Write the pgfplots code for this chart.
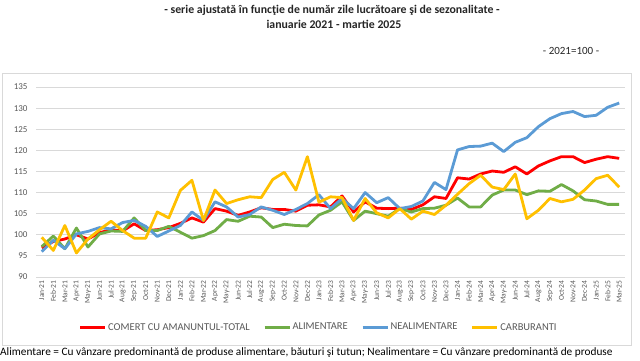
\documentclass[border=0pt]{standalone}
\usepackage{fontspec}
\setmainfont{Carlito}
\usepackage{pgfplots}
\usepackage{pgfplotstable}
\pgfplotsset{compat=1.18}
\definecolor{cred}{RGB}{255,0,0}
\definecolor{cgreen}{RGB}{112,173,71}
\definecolor{cblue}{RGB}{91,155,213}
\definecolor{cyellow}{RGB}{255,192,0}
\definecolor{tickgray}{RGB}{89,89,89}
\definecolor{gridgray}{RGB}{217,217,217}

\pgfplotstableread{
i red green blue yellow
0 96.9 97.2 96.0 99.4
1 98.4 99.7 98.7 96.3
2 99.0 96.7 96.7 102.2
3 100.0 101.6 100.2 95.7
4 99.0 97.1 100.8 99.0
5 100.5 100.2 101.7 101.2
6 101.2 100.9 101.4 103.2
7 100.9 100.8 102.9 101.0
8 102.6 104.0 103.4 99.2
9 101.0 101.0 102.0 99.2
10 101.2 101.0 99.6 105.4
11 101.7 102.0 100.9 104.0
12 102.7 100.6 102.2 110.5
13 104.0 99.2 105.4 112.9
14 103.0 99.8 103.4 103.4
15 106.2 101.0 107.8 110.6
16 105.6 103.6 106.6 107.4
17 104.6 103.2 104.2 108.3
18 105.4 104.4 104.8 109.0
19 106.4 104.2 106.6 108.8
20 106.0 101.7 105.8 113.1
21 106.0 102.5 104.8 114.8
22 105.6 102.2 106.0 110.6
23 107.0 102.1 107.4 118.5
24 107.1 104.7 109.5 107.7
25 106.6 105.8 106.2 109.0
26 109.2 107.8 108.6 108.8
27 105.4 103.4 106.2 103.4
28 107.8 105.6 110.0 108.6
29 106.3 105.0 107.6 105.2
30 106.2 104.4 108.8 104.0
31 106.3 106.2 106.2 106.2
32 106.0 105.4 106.7 103.7
33 107.1 106.2 108.0 105.6
34 109.0 106.3 112.4 104.8
35 108.6 107.0 110.7 107.0
36 113.5 108.7 120.1 109.6
37 113.2 106.6 120.9 112.1
38 114.4 106.6 121.0 114.1
39 115.1 109.4 121.7 111.3
40 114.8 110.6 119.7 110.7
41 116.1 110.6 121.9 114.4
42 114.4 109.5 123.0 103.8
43 116.3 110.4 125.6 105.8
44 117.5 110.3 127.5 108.6
45 118.5 111.9 128.7 107.8
46 118.5 110.4 129.2 108.4
47 117.1 108.3 128.0 110.6
48 117.9 108.0 128.3 113.3
49 118.5 107.2 130.2 114.1
50 118.1 107.2 131.2 111.3
}\datatable

\begin{document}
\begin{tikzpicture}[x=1pt,y=1pt]
\useasboundingbox (0,0) rectangle (640,360);
\fill[white] (0,0) rectangle (640,360);
\draw[gridgray, line width=0.8pt] (2,15) rectangle (631,287);
\node[font=\bfseries\fontsize{11.8}{12}\selectfont, text=black!85] at (332,350) {- serie ajustată în funcţie de număr zile lucrătoare şi de sezonalitate -};
\node[font=\bfseries\fontsize{11.8}{12}\selectfont, text=black!85] at (334,335.5) {ianuarie 2021 - martie 2025};
\node[font=\fontsize{11}{12}\selectfont, text=black!85] at (571,309) {- 2021=100 -};
\begin{axis}[
  at={(36pt,83pt)}, anchor=south west,
  width=589pt, height=190pt, scale only axis,
  xmin=-0.5, xmax=50.5, ymin=90, ymax=135,
  ytick={90,95,...,135},
  xtick={0,1,...,50},
  xticklabels={Jan-21,Feb-21,Mar-21,Apr-21,May-21,Jun-21,Jul-21,Aug-21,Sep-21,Oct-21,Nov-21,Dec-21,Jan-22,Feb-22,Mar-22,Apr-22,May-22,Jun-22,Jul-22,Aug-22,Sep-22,Oct-22,Nov-22,Dec-22,Jan-23,Feb-23,Mar-23,Apr-23,May-23,Jun-23,Jul-23,Aug-23,Sep-23,Oct-23,Nov-23,Dec-23,Jan-24,Feb-24,Mar-24,Apr-24,May-24,Jun-24,Jul-24,Aug-24,Sep-24,Oct-24,Nov-24,Dec-24,Jan-25,Feb-25,Mar-25},
  axis line style={draw=none},
  major tick length=0pt,
  ymajorgrids, xmajorgrids=false,
  grid style={gridgray, line width=0.8pt},
  /pgf/number format/assume math mode=true,
  yticklabel style={font=\fontsize{9}{9}\selectfont, text=tickgray, xshift=-5pt},
  xticklabel style={rotate=90, anchor=east, font=\fontsize{7.5}{8}\selectfont, text=tickgray, yshift=0pt},
  legend columns=4,
  legend style={at={(0.4796,-0.265)}, anchor=center, draw=none, fill=none,
    font=\fontsize{10.5}{11}\selectfont, text=tickgray,
    /tikz/every even column/.append style={column sep=12pt},
    nodes={inner xsep=1.5pt}},
  legend image code/.code={\draw[#1] (0pt,0pt) -- (25pt,0pt);},
  every axis plot/.append style={line width=2.8pt, line join=round, mark=none},
]
\addplot[cred] table[x=i, y=red] {\datatable};
\addlegendentry{COMERT CU AMANUNTUL-TOTAL}
\addplot[cgreen] table[x=i, y=green] {\datatable};
\addlegendentry{ALIMENTARE}
\addplot[cblue] table[x=i, y=blue] {\datatable};
\addlegendentry{NEALIMENTARE}
\addplot[cyellow] table[x=i, y=yellow] {\datatable};
\addlegendentry{CARBURANTI}
\end{axis}
\node[anchor=base west, inner sep=0pt, font=\fontsize{11.3}{12}\selectfont] at (0,4.5) {Alimentare = Cu vânzare predominantă de produse alimentare, băuturi şi tutun; Nealimentare = Cu vânzare predominantă de produse};
\end{tikzpicture}
\end{document}
